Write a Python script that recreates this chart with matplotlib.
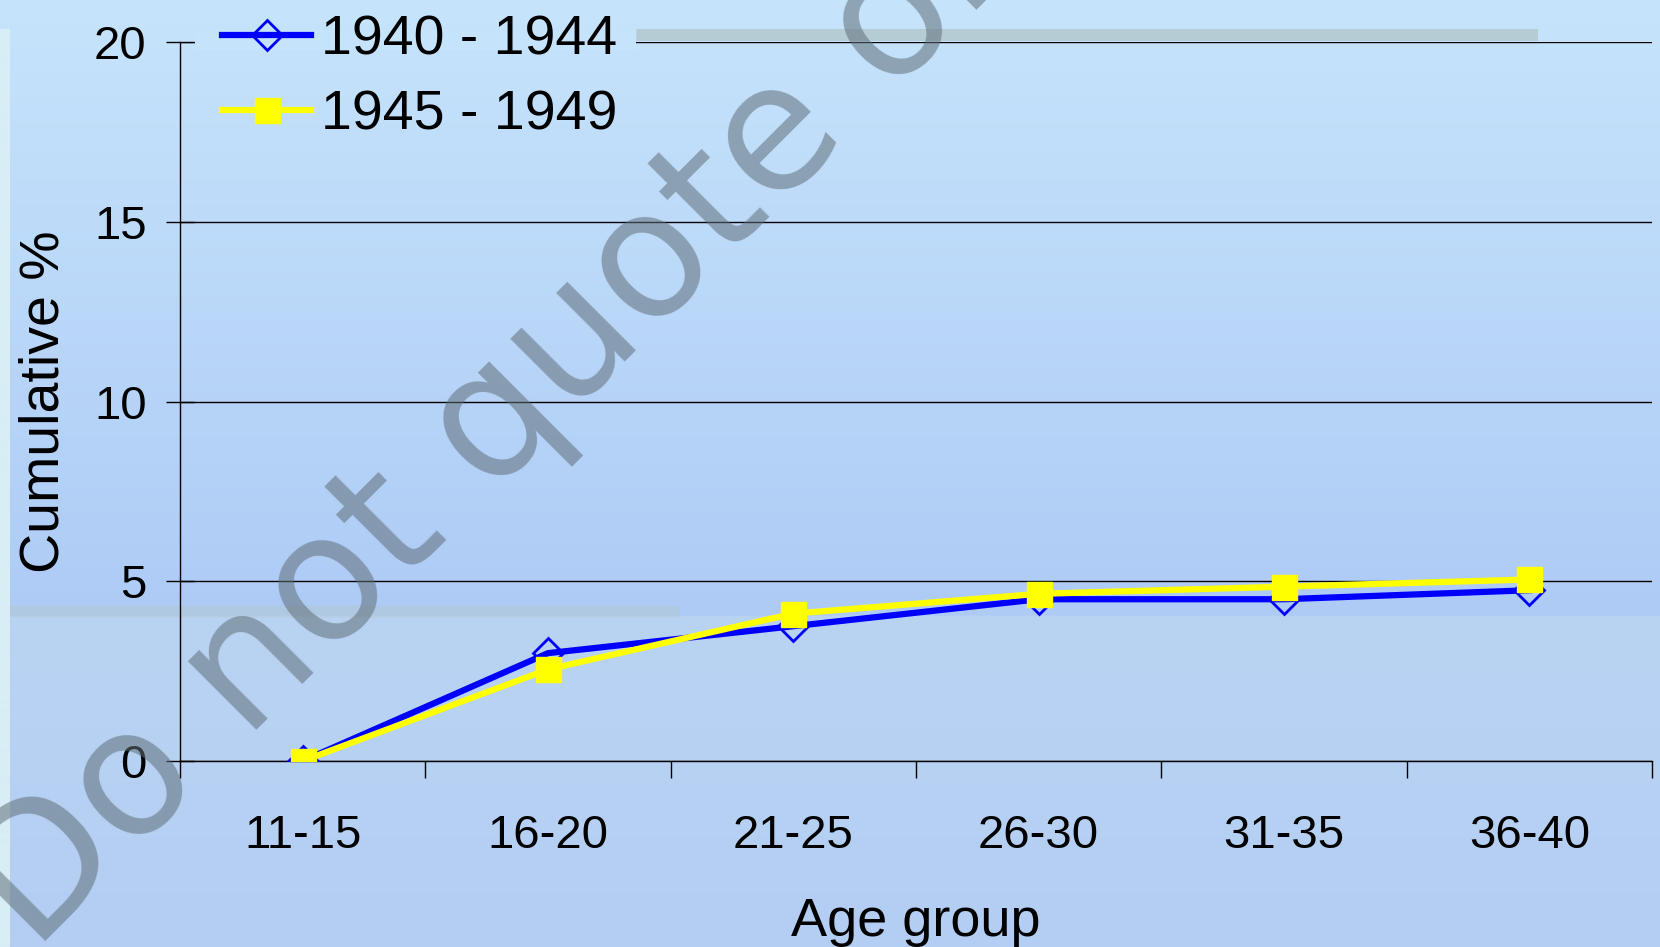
import numpy as np
from matplotlib import pyplot as plt
from matplotlib.colors import to_rgb
from matplotlib.lines import Line2D
from matplotlib.patches import Rectangle


#%% data
age_groups = ['11-15', '16-20', '21-25', '26-30', '31-35', '36-40']
cum_1940_44 = [0, 3.0, 3.75, 4.5, 4.5, 4.75]
cum_1945_49 = [0, 2.55, 4.1, 4.65, 4.85, 5.05]
y_ticks = [0, 5, 10, 15, 20]


#%% figure + slide background
W, H = 1660, 947
fig = plt.figure(figsize=(W / 100, H / 100), dpi=100)

bg = fig.add_axes([0, 0, 1, 1], zorder=-5)
bg.axis('off')
top_c, mid_c = np.array(to_rgb('#C6E4FB')), np.array(to_rgb('#AECBF6'))
low_c, bot_c = np.array(to_rgb('#B9D4F3')), np.array(to_rgb('#B3CEF2'))
img = np.zeros((H, W, 3))
split = 616
for r in range(H):
    if r < split:
        t = r / split
        img[r, :] = top_c * (1 - t) + mid_c * t
    else:
        t = (r - split) / (H - split)
        img[r, :] = low_c * (1 - t) + bot_c * t
# faint slide decorations
img[606:618, 0:680] = img[606:618, 0:680] * 0.6 + np.array(to_rgb('#B4C6C8')) * 0.4
img[30:42, 636:1537] = img[30:42, 636:1537] * 0.3 + np.array(to_rgb('#AFC3C4')) * 0.7
img[30:H, 0:10] = np.array(to_rgb('#D8EEF5'))
bg.imshow(img, extent=[0, 1, 0, 1], aspect='auto')
bg.set_xlim(0, 1)
bg.set_ylim(0, 1)


#%% chart
ax = fig.add_axes([180 / W, 1 - 761 / H, (1652 - 180) / W, (761 - 42) / H])
ax.patch.set_alpha(0)
x = np.arange(len(age_groups))

ax.plot(x, cum_1940_44, color='#0000FF', lw=4.5, marker='D', ms=15,
        mfc='none', mec='#0000FF', mew=2, zorder=3)
ax.plot(x, cum_1945_49, color='#FFFF00', lw=4.5, marker='s', ms=18,
        mfc='#FFFF00', mec='#FFFF00', zorder=4)

ax.set_xlim(-0.5, len(age_groups) - 0.5)
ax.set_ylim(0, 20)
ax.set_yticks(y_ticks)
ax.set_yticklabels([str(v) for v in y_ticks])
ax.set_xticks(np.arange(-0.5, len(age_groups)), minor=False)
ax.set_xticklabels([])
ax.set_xticks(x, minor=True)
ax.set_xticklabels(age_groups, minor=True)
ax.tick_params(axis='x', which='major', direction='out', length=12, width=1)
ax.tick_params(axis='x', which='minor', length=0, pad=38, labelsize=34)
ax.tick_params(axis='y', direction='inout', length=20, width=1, pad=14, labelsize=34)

for tl in ax.get_xticklabels(minor=True) + ax.get_yticklabels():
    tl.set_fontfamily('Liberation Sans')

ax.grid(axis='y', color='black', lw=1)
for s in ['top', 'right']:
    ax.spines[s].set_visible(False)
ax.spines['left'].set_linewidth(1)
ax.spines['bottom'].set_linewidth(1)

ax.set_xlabel('Age group', fontsize=39, family='Liberation Sans', labelpad=28)
ax.set_ylabel('Cumulative %', fontsize=40, family='Liberation Sans', labelpad=17)

# legend sits over the top gridline, so mask it there
fig.patches.append(Rectangle((195 / W, 1 - 50 / H), (636 - 195) / W, 20 / H,
                             transform=fig.transFigure, facecolor='#C5E3FB',
                             edgecolor='none', zorder=5))

handles = [
    Line2D([], [], color='#0000FF', lw=4.5, marker='D', ms=15, mfc='none', mec='#0000FF', mew=2),
    Line2D([], [], color='#FFFF00', lw=4.5, marker='s', ms=18, mfc='#FFFF00', mec='#FFFF00'),
]
leg = fig.legend(handles, ['1940 - 1944', '1945 - 1949'], loc='upper left',
                 bbox_to_anchor=(214 / W, 1 - 6 / H), frameon=False,
                 prop={'family': 'Liberation Sans', 'size': 40},
                 handlelength=1.6, handletextpad=0.18, labelspacing=0.42,
                 borderpad=0.15, borderaxespad=0)
leg.set_zorder(6)


#%% watermark
fig.text(34 / W, 1 - 953 / H, 'Do not quote or cite', fontsize=127, family='DejaVu Sans',
         rotation=45, rotation_mode='anchor', ha='left', va='baseline',
         color='#606E78', alpha=0.55, zorder=10)

fig.savefig('out.png', dpi=100)
